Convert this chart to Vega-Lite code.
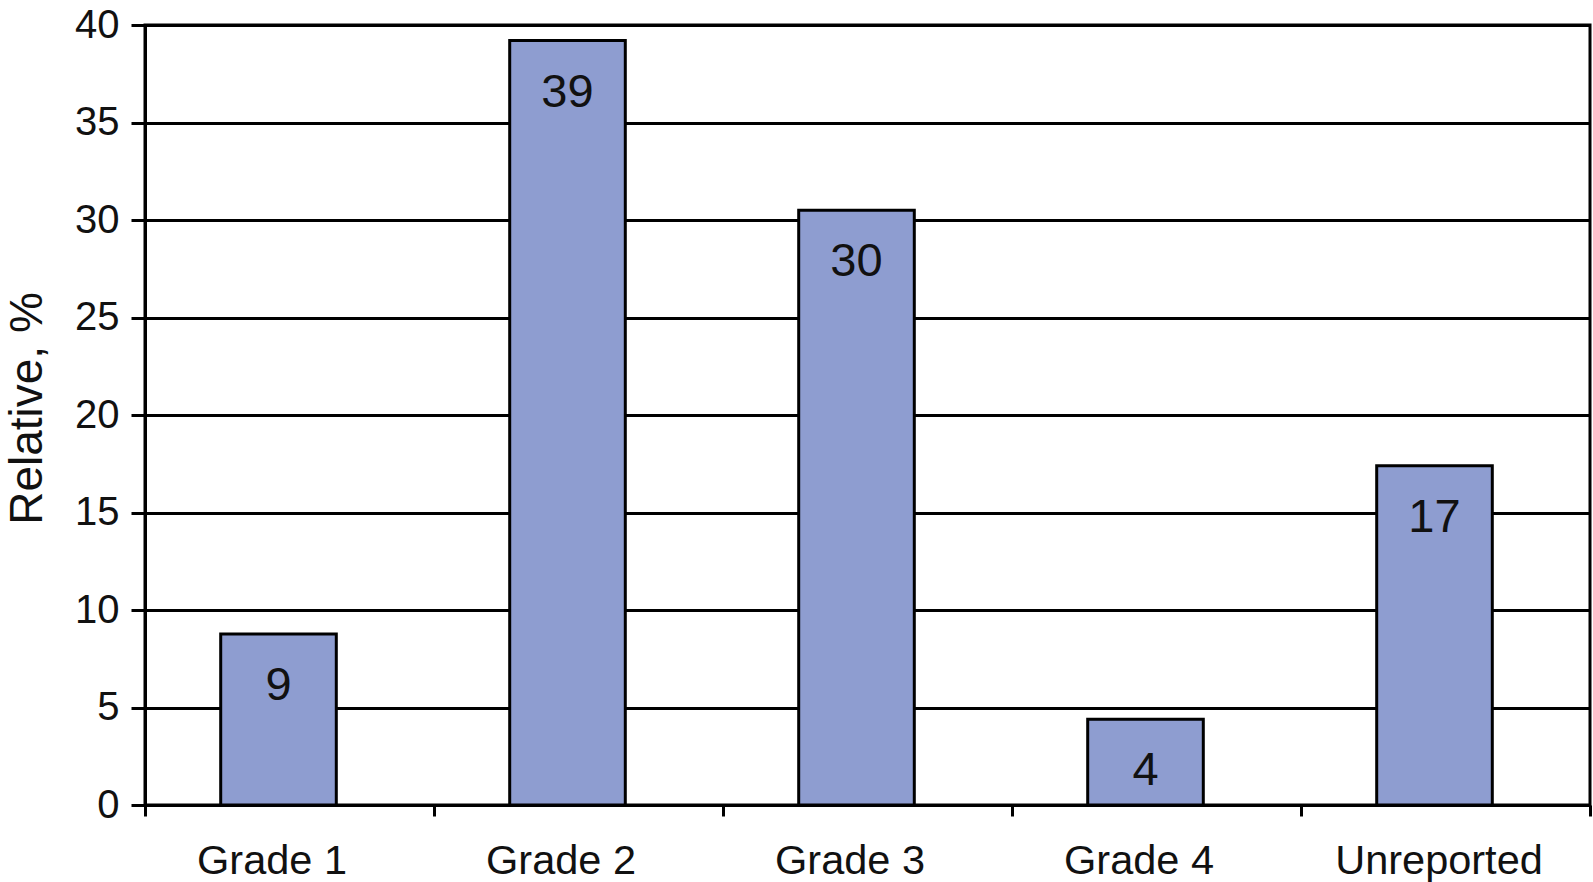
{
  "$schema": "https://vega.github.io/schema/vega-lite/v6.json",
  "width": 1445,
  "height": 780,
  "autosize": {"type": "none"},
  "padding": {"left": 145, "top": 25, "right": 3, "bottom": 77},
  "background": "white",
  "config": {
    "font": "Liberation Sans",
    "view": {"stroke": "black", "strokeWidth": 3}
  },
  "data": {
    "values": [
      {"grade": "Grade 1", "value": 8.77, "label": "9"},
      {"grade": "Grade 2", "value": 39.2, "label": "39"},
      {"grade": "Grade 3", "value": 30.5, "label": "30"},
      {"grade": "Grade 4", "value": 4.4, "label": "4"},
      {"grade": "Unreported", "value": 17.4, "label": "17"}
    ]
  },
  "encoding": {
    "x": {
      "field": "grade",
      "type": "nominal",
      "sort": null,
      "scale": {"paddingInner": 0, "paddingOuter": 0},
      "axis": {
        "title": null,
        "labelAngle": 0,
        "labelFontSize": 41.5,
        "labelColor": "#111",
        "labelPadding": 24,
        "labelLimit": 0,
        "labelOffset": {"condition": {"test": "datum.value === 'Unreported'", "value": -7}, "value": -18},
        "tickBand": "extent",
        "tickSize": 11,
        "tickWidth": 3,
        "tickColor": "black",
        "domainColor": "black",
        "domainWidth": 3,
        "grid": false
      }
    },
    "y": {
      "field": "value",
      "type": "quantitative",
      "scale": {"domain": [0, 40], "nice": false},
      "axis": {
        "title": "Relative, %",
        "titleFontSize": 46,
        "titleFontWeight": "normal",
        "titleColor": "#111",
        "titleX": -104,
        "titleY": 383,
        "titleBaseline": "alphabetic",
        "values": [0, 5, 10, 15, 20, 25, 30, 35, 40],
        "labelFontSize": 40,
        "labelColor": "#111",
        "labelPadding": 12,
        "tickSize": 14,
        "tickWidth": 3,
        "tickColor": "black",
        "domainColor": "black",
        "domainWidth": 3,
        "grid": true,
        "gridColor": "black",
        "gridWidth": 3,
        "gridOpacity": 1
      }
    }
  },
  "layer": [
    {
      "mark": {
        "type": "bar",
        "width": {"band": 0.4},
        "xOffset": -11,
        "fill": "#8E9DD0",
        "stroke": "black",
        "strokeWidth": 3
      }
    },
    {
      "mark": {
        "type": "text",
        "baseline": "middle",
        "align": "center",
        "dy": 52,
        "xOffset": -11,
        "fontSize": 47,
        "color": "#111"
      },
      "encoding": {"text": {"field": "label"}}
    }
  ]
}
